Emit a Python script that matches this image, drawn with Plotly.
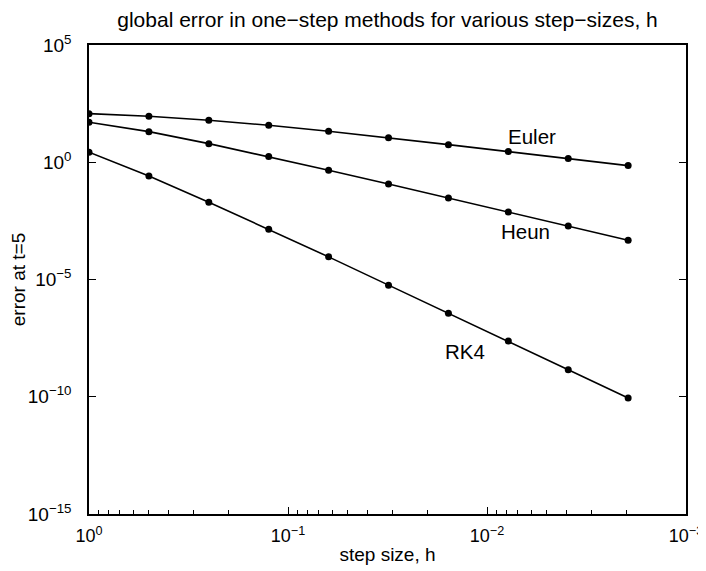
import plotly.graph_objects as go

# step sizes h = 1, 1/2, ..., 1/512
h = [1.0, 0.5, 0.25, 0.125, 0.0625, 0.03125, 0.015625, 0.0078125, 0.00390625, 0.001953125]

euler = [118, 91.4, 61.8, 37.8, 21.0, 11.2, 5.64, 2.84, 1.43, 0.718]
heun = [50.8, 20.2, 6.22, 1.74, 0.457, 0.119, 0.0302, 0.00764, 0.00193, 0.000475]
rk4 = [2.67, 0.261, 0.0198, 1.40e-3, 9.23e-5, 5.74e-6, 3.68e-7, 2.36e-8, 1.41e-9, 8.79e-11]

x_tick_vals = [1, 0.1, 0.01, 0.001]
x_tick_text = ["10<sup>0</sup>", "10<sup>−1</sup>", "10<sup>−2</sup>", "10<sup>−3</sup>"]
y_tick_vals = [1e5, 1e0, 1e-5, 1e-10, 1e-15]
y_tick_text = ["10<sup>5</sup>", "10<sup>0</sup>", "10<sup>−5</sup>", "10<sup>−10</sup>", "10<sup>−15</sup>"]

labels = ["Euler", "Heun", "RK4"]
# label positions in log10 units (log axes)
label_logx = [-2.227, -2.192, -1.890]
label_logy = [1.079, -2.957, -8.07]

x_minor = [m * 10 ** e for e in (-3, -2, -1) for m in range(2, 10)]

FONT = "Liberation Sans, Arial, Helvetica, sans-serif"
XTICK_FS = 18
YTICK_FS = 19
LABEL_FS = 19
TEXT_FS = 20.5
TITLE_FS = 21

# the page body adds an 8px offset; size the figure so the plot box lands
# at x 89..686, y 45..514 in the 706x571 window
fig = go.Figure()
for series in (euler, heun, rk4):
    fig.add_trace(go.Scatter(
        x=h, y=series, mode="lines+markers",
        line=dict(color="black", width=1.6),
        marker=dict(color="black", size=7),
        showlegend=False,
    ))

for t, xx, yy in zip(labels, label_logx, label_logy):
    fig.add_annotation(x=xx, y=yy, xref="x", yref="y", text=t, showarrow=False,
                       font=dict(family=FONT, size=TEXT_FS, color="black"))

fig.update_layout(
    width=698, height=563,
    margin=dict(l=81, r=20, t=37, b=57, autoexpand=False),
    paper_bgcolor="white", plot_bgcolor="white",
    font=dict(family=FONT, size=YTICK_FS, color="black"),
    title=dict(text="global error in one−step methods for various step−sizes, h",
               x=0.5, xref="paper", xanchor="center", y=1, yref="container", yanchor="top",
               pad=dict(t=4),
               font=dict(family=FONT, size=TITLE_FS, color="black")),
    xaxis=dict(
        type="log", range=[0, -3], automargin=False,
        tickmode="array", tickvals=x_tick_vals, ticktext=x_tick_text,
        ticks="inside", ticklen=7, tickwidth=1, tickcolor="black",
        showline=True, linecolor="black", linewidth=1.5, mirror=True,
        showgrid=False, zeroline=False,
        minor=dict(tickmode="array", tickvals=x_minor, ticks="inside", ticklen=4,
                   tickcolor="black", showgrid=False),
        ticklabelstandoff=5,
        title=dict(text="step size, h", standoff=2, font=dict(size=LABEL_FS)),
        tickfont=dict(size=XTICK_FS),
    ),
    xaxis2=dict(type="log", range=[0, -3], overlaying="x", side="top",
                tickmode="array", tickvals=x_tick_vals, showticklabels=False,
                ticks="inside", ticklen=7, tickwidth=1, tickcolor="black",
                showgrid=False, zeroline=False, showline=False,
                minor=dict(tickmode="array", tickvals=x_minor, ticks="inside", ticklen=4,
                           tickcolor="black", showgrid=False)),
    yaxis=dict(
        type="log", range=[-15, 5], automargin=False,
        tickmode="array", tickvals=y_tick_vals, ticktext=y_tick_text,
        ticks="inside", ticklen=7, tickwidth=1, tickcolor="black",
        showline=True, linecolor="black", linewidth=1.5, mirror="ticks",
        showgrid=False, zeroline=False,
        ticklabelstandoff=12,
        title=dict(text="error at t=5", standoff=10, font=dict(size=LABEL_FS)),
        tickfont=dict(size=YTICK_FS),
    ),
)

fig.write_html("out.html")
